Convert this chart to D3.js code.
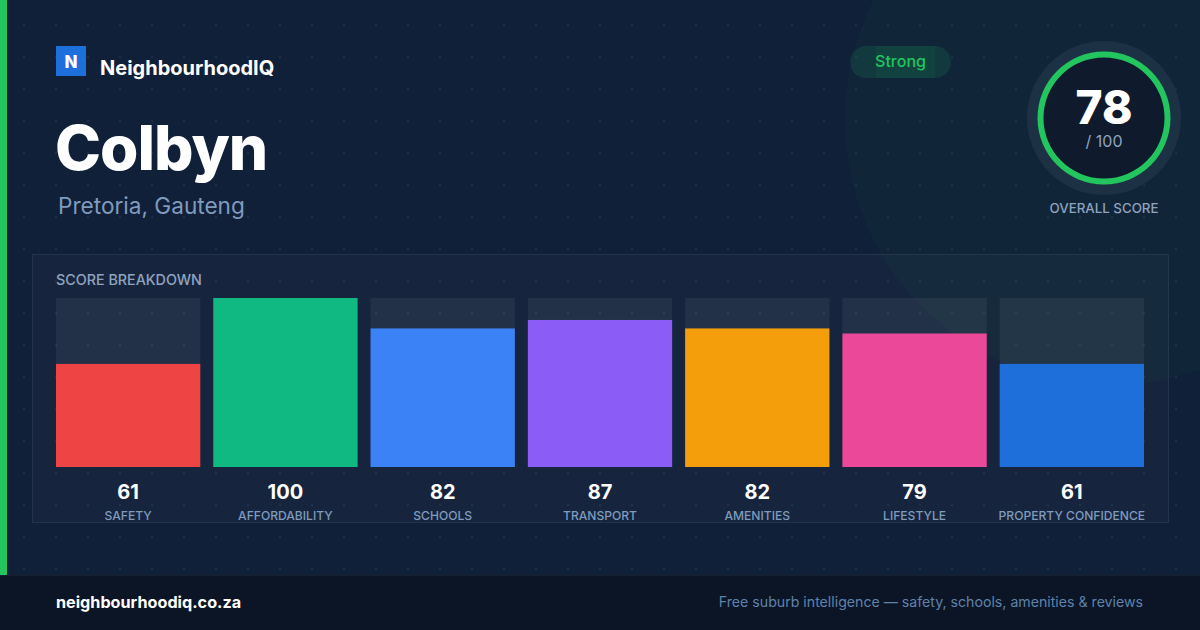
<!DOCTYPE html>
<html><head><meta charset="utf-8">
<script src="https://cdn.jsdelivr.net/npm/d3@7"></script>
<style>html,body{margin:0;padding:0;background:#111f38;}svg{display:block;font-family:Inter,"Noto Sans",sans-serif;}</style>
</head><body>
<script>
const categories = ["SAFETY","AFFORDABILITY","SCHOOLS","TRANSPORT","AMENITIES","LIFESTYLE","PROPERTY CONFIDENCE"];
const scores = [61,100,82,87,82,79,61];
const barColors = ["#ef4444","#10b981","#3b82f6","#8b5cf6","#f59e0b","#ec4899","#1e6fd9"];
const overallScore = 78;
const scoreMax = 100;
const suburb = "Colbyn";
const region = "Pretoria, Gauteng";
const rating = "Strong";

const W=1200,H=630;
const svg=d3.select("body").append("svg").attr("width",W).attr("height",H);
const defs=svg.append("defs");
const pat=defs.append("pattern").attr("id","dots").attr("width",32).attr("height",32).attr("patternUnits","userSpaceOnUse").attr("x",8).attr("y",9);
pat.append("circle").attr("cx",16).attr("cy",16).attr("r",1.2).attr("fill","rgba(255,255,255,0.05)");

svg.append("rect").attr("width",W).attr("height",H).attr("fill","#112039");
svg.append("circle").attr("cx",1110).attr("cy",120).attr("r",265).attr("fill","rgba(34,197,94,0.035)");
svg.append("rect").attr("width",W).attr("height",575).attr("fill","url(#dots)");
svg.append("rect").attr("x",0).attr("y",0).attr("width",7).attr("height",575).attr("fill","#22c55e");

// header
svg.append("rect").attr("x",56).attr("y",46).attr("width",30).attr("height",30).attr("fill","#1d6fdc");
svg.append("text").attr("x",71).attr("y",67.5).attr("text-anchor","middle").attr("fill","#fff").attr("font-weight",800).attr("font-size",17).text("N");
svg.append("text").attr("x",100).attr("y",75).attr("fill","#fff").attr("font-weight",700).attr("font-size",20).text("NeighbourhoodIQ");
svg.append("text").attr("x",55).attr("y",170).attr("fill","#fff").attr("font-weight",800).attr("font-size",62).attr("letter-spacing",-1).text(suburb);
svg.append("text").attr("x",58).attr("y",214).attr("fill","#7f9bbd").attr("font-size",22.6).text(region);

// pill
svg.append("rect").attr("x",850).attr("y",46).attr("width",101).attr("height",32).attr("rx",16).attr("fill","rgba(34,197,94,0.13)");
svg.append("rect").attr("x",876).attr("y",46).attr("width",59).attr("height",32).attr("fill","rgba(34,197,94,0.07)");
svg.append("text").attr("x",900.5).attr("y",67).attr("text-anchor","middle").attr("fill","#22c55e").attr("font-weight",500).attr("font-size",16).text(rating);

// ring
const cx=1104,cy=118;
svg.append("circle").attr("cx",cx).attr("cy",cy).attr("r",77).attr("fill","#1d3144");
svg.append("circle").attr("cx",cx).attr("cy",cy).attr("r",64).attr("fill","#0f1a2c");
const arc=d3.arc().innerRadius(60.5).outerRadius(66.5).startAngle(0).endAngle(2*Math.PI);
svg.append("path").attr("transform",`translate(${cx},${cy})`).attr("d",arc()).attr("fill","#22c55e");
svg.append("text").attr("x",cx).attr("y",124).attr("text-anchor","middle").attr("fill","#fff").attr("font-weight",800).attr("font-size",46).text(overallScore);
svg.append("text").attr("x",cx).attr("y",147).attr("text-anchor","middle").attr("fill","#8fa3bf").attr("font-size",16).text("/ "+scoreMax);
svg.append("text").attr("x",cx).attr("y",213).attr("text-anchor","middle").attr("fill","#8fa3bf").attr("font-size",13.3).attr("font-weight",500).text("OVERALL SCORE");

// panel
svg.append("rect").attr("x",32.5).attr("y",254.5).attr("width",1136).attr("height",268).attr("fill","rgba(255,255,255,0.025)").attr("stroke","rgba(255,255,255,0.08)");
svg.append("text").attr("x",56).attr("y",285).attr("fill","#8fa3bf").attr("font-size",14.3).attr("font-weight",500).text("SCORE BREAKDOWN");

const x=d3.scaleBand().domain(categories).range([56,1144]).paddingInner(13/157.3).paddingOuter(0);
const y=d3.scaleLinear().domain([0,scoreMax]).range([467,298]);
const g=svg.append("g");
const items=categories.map((c,i)=>({c,v:scores[i],col:barColors[i]}));
g.selectAll(".track").data(items).join("rect").attr("x",d=>x(d.c)).attr("width",x.bandwidth()).attr("y",y(scoreMax)).attr("height",y(0)-y(scoreMax)).attr("fill","rgba(255,255,255,0.06)");
g.selectAll(".bar").data(items).join("rect").attr("x",d=>x(d.c)).attr("width",x.bandwidth()).attr("y",d=>y(d.v)).attr("height",d=>y(0)-y(d.v)).attr("fill",d=>d.col);
g.selectAll(".val").data(items).join("text").attr("x",d=>x(d.c)+x.bandwidth()/2).attr("y",499).attr("text-anchor","middle").attr("fill","#fff").attr("font-weight",700).attr("font-size",20).text(d=>d.v);
g.selectAll(".lab").data(items).join("text").attr("x",d=>x(d.c)+x.bandwidth()/2).attr("y",520).attr("text-anchor","middle").attr("fill","#7f9bbd").attr("font-weight",500).attr("font-size",12.1).text(d=>d.c);

// footer
svg.append("rect").attr("x",0).attr("y",575).attr("width",W).attr("height",55).attr("fill","#0b1526");
svg.append("line").attr("x1",0).attr("x2",W).attr("y1",575.5).attr("y2",575.5).attr("stroke","rgba(255,255,255,0.05)");
svg.append("text").attr("x",56).attr("y",608).attr("fill","#fff").attr("font-weight",700).attr("font-size",16.2).text("neighbourhoodiq.co.za");
svg.append("text").attr("x",1143).attr("y",607).attr("text-anchor","end").attr("fill","#5f82ab").attr("font-size",14.15).text("Free suburb intelligence — safety, schools, amenities & reviews");
</script>
</body></html>
